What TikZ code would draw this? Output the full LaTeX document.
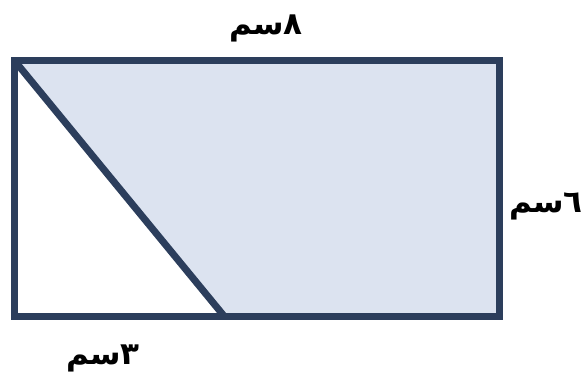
\documentclass[tikz,border=0pt]{standalone}
\usepackage{fontspec}
\newfontfamily\arabicfont[Script=Arabic]{DejaVu Sans}
\TeXXeTstate=1
\definecolor{edgeblue}{RGB}{44,62,92}
\definecolor{shadeblue}{RGB}{220,227,240}
\tikzset{
  side/.style={line width=7pt, draw=edgeblue},
  lbl/.style={font=\arabicfont\bfseries\fontsize{31}{36}\selectfont, inner sep=0pt}
}

\begin{document}
\begin{tikzpicture}[x=1pt,y=-1pt]
  \useasboundingbox (0,0) rectangle (585,388);
  \coordinate (A) at (14,60); \coordinate (B) at (14,316);
  \coordinate (C) at (499,316); \coordinate (D) at (499,60);
  \coordinate (E) at (224,316);
  \fill[shadeblue] (A)--(D)--(C)--(E)--cycle;
  \draw[side] (A)--(B)--(C)--(D)--cycle;
  \draw[side] (A)--(E);
  \node[lbl] (top) at (266,28) {\beginR ٨سم\endR};
  \node[lbl] (right) at (546,206) {\beginR ٦سم\endR};
  \node[lbl] (bottom) at (103,358) {\beginR ٣سم\endR};
\end{tikzpicture}
\end{document}
